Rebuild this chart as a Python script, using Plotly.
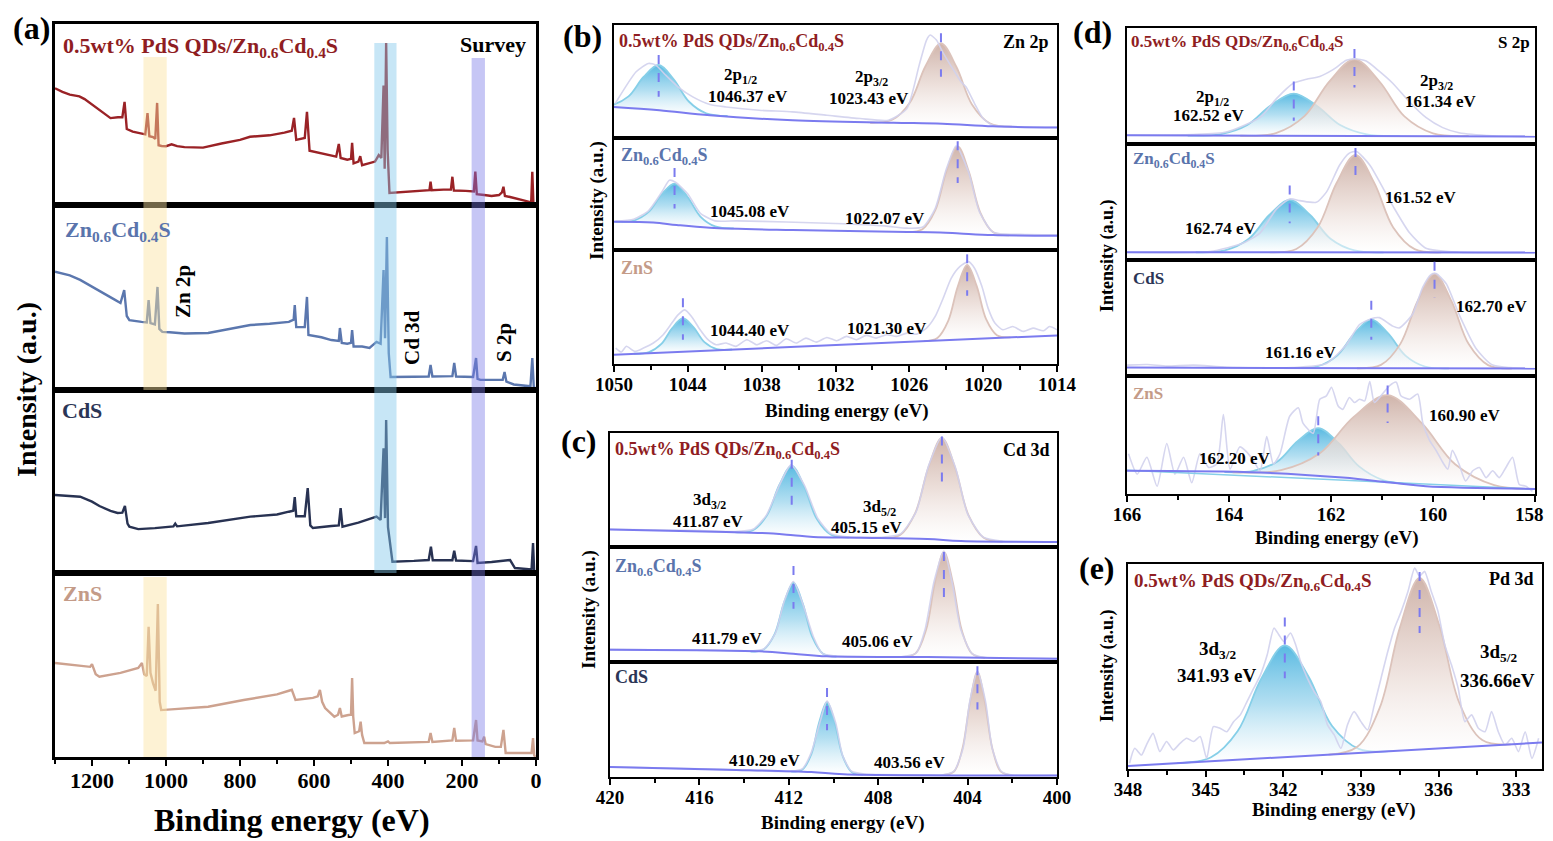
import plotly.graph_objects as go

W, H = 1553, 841
FONT = "Liberation Serif"
# the page puts the figure 8 px in from the top-left corner; positions below are
# measured on the reference picture and shifted back by this much
OFF = 8

# ---------------- (a) survey spectra: binding energy (eV) / intensity (a.u.) ----------------
sv_pd_be = [1300, 1280, 1260, 1234, 1220, 1200, 1170, 1150, 1130, 1118, 1112, 1106, 1090, 1070, 1056,
            1050, 1045, 1035, 1029, 1024, 1020, 1012, 1000, 985, 970, 950, 900, 850, 800, 773,
            720, 680, 660, 654, 648, 625, 619, 612, 600, 580, 560, 540, 533, 528, 510,
            500, 497, 493, 480, 475, 470, 450, 435, 425, 418, 412, 409, 405, 401, 396,
            380, 340, 300, 288, 285, 282, 250, 230, 226, 222, 190, 168, 164, 160, 140,
            120, 100, 92, 88, 84, 70, 40, 20, 13, 10, 7, 2]
sv_pd = [64.5, 62.5, 61, 60, 58.5, 55.5, 51.5, 48, 48.5, 48.5, 57, 42, 40.5, 39.8, 39,
         50.8, 38, 37.5, 36.5, 56.4, 33, 32.6, 32.5, 33.5, 32.5, 32, 31.7, 34, 36, 37.7,
         38.5, 40, 41, 48.1, 36, 37, 51.5, 30, 29.5, 28.7, 27.5, 26.7, 33.7, 26, 25,
         25.5, 34.3, 23, 24, 27, 22, 23, 24, 27.6, 26, 66, 20, 89.5, 30, 6.6,
         6.8, 7.4, 8, 8.2, 12.9, 8.2, 8.5, 8.5, 15.6, 8, 7.8, 7.5, 18.4, 6, 5.5,
         5, 5.5, 7, 10.1, 5, 4.4, 3, 1.8, 1.5, 18.4, 0.5, 0]

sv_zc_be = [1300, 1260, 1232, 1200, 1169, 1140, 1123, 1113, 1106, 1099, 1066, 1052, 1047, 1042, 1030,
            1023, 1018, 1010, 990, 950, 886, 830, 772, 720, 668, 655, 652, 648, 625, 619,
            615, 580, 553, 533, 530, 525, 510, 500, 497, 493, 470, 450, 431, 420, 412,
            408, 403, 398, 393, 330, 290, 285, 280, 226, 221, 216, 170, 162, 158, 150,
            120, 90, 85, 80, 60, 30, 15, 10, 6, 2]
sv_zc = [63.9, 62, 59.5, 56, 52.4, 49, 47, 54, 40, 37.8, 36.8, 36.5, 48.6, 36.2, 35.5,
         55.7, 33, 31.4, 31.2, 30.5, 30.8, 33, 35.1, 35.8, 36.8, 38, 45.9, 34, 34, 50.3,
         29.7, 28.5, 27, 26.5, 33.5, 25.4, 25, 25.5, 32.4, 23.5, 23.5, 22.7, 26, 25, 64.9,
         28, 82.7, 20, 7, 7.2, 7.3, 13.5, 7.3, 7.5, 14.6, 7.3, 7, 17.3, 6, 5.5,
         5.5, 5.5, 9.7, 4.5, 3, 2.2, 2, 17.3, 1.6, 1]

sv_cds_be = [1300, 1260, 1232, 1200, 1180, 1150, 1131, 1118, 1111, 1104, 1099, 1075, 1030, 980, 975,
             970, 886, 772, 700, 668, 656, 652, 648, 625, 617, 610, 603, 553, 533, 528,
             523, 480, 431, 420, 412, 408, 405, 400, 388, 330, 290, 284, 279, 226, 221,
             216, 170, 162, 158, 120, 95, 70, 57, 30, 12, 8, 5, 2]
sv_cds = [42.6, 42, 41.7, 39, 36.6, 34, 32.8, 33, 36.6, 27, 25.3, 24, 24.5, 25.5, 27,
          25.5, 27.3, 30.8, 32, 33.5, 34, 41.5, 31, 31, 46.4, 26, 24.6, 25.7, 26, 35.5,
          25.3, 27.5, 30.8, 29, 68.1, 30, 83.6, 25, 6.2, 6.6, 7.1, 14.4, 7, 7, 12.2,
          6.8, 6.5, 14.8, 5.5, 6, 6.5, 7.1, 2.7, 2.5, 2, 16.4, 1, 0]

sv_zns_be = [1300, 1250, 1217, 1205, 1200, 1190, 1180, 1123, 1075, 1065, 1059, 1052, 1047, 1042, 1035,
             1028, 1022, 1017, 1013, 990, 886, 790, 700, 668, 660, 650, 603, 590, 584, 578,
             570, 545, 535, 530, 525, 507, 500, 497, 494, 490, 478, 474, 470, 464, 410,
             400, 395, 290, 285, 280, 226, 221, 216, 170, 162, 158, 145, 140, 136, 110,
             95, 88, 84, 82, 30, 12, 8, 5, 2]
sv_zns = [51.1, 50, 49.1, 49, 50.5, 45, 43.6, 45.7, 48.4, 51.1, 45, 44, 70.8, 45.7, 40,
          36, 83.2, 30, 25.5, 25.8, 27.3, 31, 34, 36, 36.5, 31, 32.1, 33, 36.4, 30,
          26.6, 21.9, 23, 26.6, 22, 22.8, 23, 42.9, 22, 13, 14, 19.2, 12, 7.6, 7.6,
          8.5, 7.6, 8.2, 13, 8.2, 9, 15.8, 8.8, 9, 20.1, 9, 8.5, 11, 7, 5.5,
          5.5, 14.7, 5, 2.2, 2.2, 2.2, 10.3, 1, 0]

# ---------------- (b) Zn 2p ----------------
zn1_raw_be = [1049.9, 1048.2, 1047.2, 1046.6, 1045.8, 1044.8, 1043.6, 1042.2, 1040.9, 1038.2, 1035.5, 1032.7, 1030.0, 1027.7,
              1026.2, 1025.2, 1024.6, 1024.3, 1023.8, 1023.3, 1022.4, 1021.8, 1021.4, 1020.7, 1020.0, 1019.2, 1016.5, 1014.0]
zn1_raw = [30.5, 58.6, 66.0, 64.5, 55.6, 45.3, 36.4, 29.6, 27.5, 24.6, 23.1, 20.1, 17.2, 15.7,
           26.0, 64.5, 86.7, 91.1, 86.7, 76.3, 60.0, 49.7, 45.3, 30.5, 17.2, 11.2, 9.8, 9.5]
zn1_bg_be = [1050, 1046.3, 1042.2, 1035.5, 1027.3, 1023.3, 1019.2, 1014]
zn1_bg = [27.5, 24.6, 20.1, 15.7, 13.6, 12.7, 10.4, 9.2]
zn1_a_be = [1051.97, 1050.22, 1048.82, 1047.6, 1046.37, 1045.15, 1043.92, 1042.52, 1040.77]
zn1_a = [27.5, 28.9, 36.8, 54.0, 64.6, 52.0, 32.3, 21.9, 19.5]
zn1_b_be = [1029.19, 1027.39, 1025.95, 1024.69, 1023.43, 1022.17, 1020.91, 1019.47, 1017.67]
zn1_b = [13.5, 16.1, 31.4, 63.5, 83.7, 62.8, 29.7, 13.1, 10.0]
zn1_centers = [1046.37, 1023.43]
zn1_dash_hi = [73.4, 92.6]
zn1_dash_lo = [36.4, 54.1]

zn2_raw_be = [1049.9, 1048.4, 1047.2, 1046.1, 1045.5, 1045.0, 1044.0, 1043.0, 1041.8, 1040.0, 1036.0, 1032.0,
              1028.0, 1026.2, 1024.9, 1023.9, 1023.0, 1022.2, 1021.2, 1020.3, 1019.2, 1017.0, 1014.0]
zn2_raw = [25.8, 27.5, 35.0, 52.0, 62.3, 60.5, 50.0, 33.0, 26.0, 26.0, 25.0, 23.7,
           21.5, 19.5, 20.5, 37.0, 72.0, 92.9, 70.0, 34.0, 16.0, 14.0, 13.5]
zn2_bg_be = [1050, 1046.8, 1044.9, 1042.2, 1035.5, 1027.3, 1023.5, 1021.9, 1019.2, 1014]
zn2_bg = [25.2, 24.6, 22.3, 19.9, 17.8, 16.3, 15.7, 14.8, 13.4, 12.8]
zn2_a_be = [1049.88, 1048.38, 1047.18, 1046.13, 1045.08, 1044.03, 1042.98, 1041.78, 1040.28]
zn2_a = [25.2, 26.3, 34.0, 49.6, 59.3, 47.6, 29.9, 21.1, 19.4]
zn2_b_be = [1026.23, 1024.93, 1023.89, 1022.98, 1022.07, 1021.16, 1020.25, 1019.21, 1017.91]
zn2_b = [16.1, 18.5, 35.5, 70.5, 92.6, 69.8, 33.9, 16.1, 13.1]
zn2_centers = [1045.08, 1022.07]
zn2_dash_hi = [73.3, 97.0]
zn2_dash_lo = [37.1, 59.9]

zn3_raw_be = [1049.86, 1049.4, 1049.0, 1048.3, 1047.6, 1046.8, 1046.0, 1045.3, 1044.8, 1044.25,
              1043.7, 1043.0, 1042.36, 1041.7, 1040.9, 1040.1, 1039.2, 1038.4, 1037.6, 1036.8,
              1036.0, 1035.2, 1034.4, 1033.55, 1032.7, 1031.9, 1031.1, 1030.3, 1029.5, 1028.7,
              1027.85, 1027.05, 1026.2, 1025.4, 1024.6, 1023.9, 1023.25, 1022.6, 1021.9, 1021.2,
              1020.7, 1020.1, 1019.6, 1019.05, 1018.4, 1017.6, 1016.75, 1015.95, 1015.1, 1014.6, 1014.0]
zn3_raw = [14.0, 10.5, 15.5, 11.1, 14.0, 18.4, 25.7, 35.9, 43.1, 47.5,
           41.7, 30.0, 21.3, 16.9, 18.4, 15.5, 21.3, 16.9, 20.4, 16.3,
           22.2, 18.4, 22.7, 19.2, 23.3, 20.4, 24.2, 21.3, 25.1, 22.7,
           25.7, 24.2, 27.1, 26.2, 31.5, 41.7, 57.7, 75.2, 85.4, 89.8,
           84.0, 67.9, 49.0, 35.9, 30.0, 32.9, 28.6, 31.5, 29.2, 32.9, 30.0]
zn3_bg_be = [1050, 1014]
zn3_bg = [8.2, 25.1]
zn3_a_be = [1048.4, 1047.15, 1046.15, 1045.28, 1044.4, 1043.53, 1042.65, 1041.65, 1040.4]
zn3_a = [9.0, 10.5, 17.6, 31.3, 40.2, 32.1, 19.2, 13.1, 12.7]
zn3_b_be = [1024.82, 1023.72, 1022.84, 1022.07, 1021.3, 1020.53, 1019.76, 1018.88, 1017.78]
zn3_b = [20.0, 22.8, 37.8, 67.8, 86.9, 68.5, 39.3, 25.2, 23.4]
zn3_centers = [1044.40, 1021.30]
zn3_dash_hi = [57.7, 96.2]
zn3_dash_lo = [21.3, 59.8]

# ---------------- (c) Cd 3d ----------------
cd1_raw_be = [420, 416, 414.4, 413.6, 413.0, 412.4, 411.9, 411.3, 410.7, 410.1, 409.3, 408.5,
              407.9, 407.0, 406.3, 405.75, 405.15, 404.55, 404.0, 403.3, 402.4, 401, 400]
cd1_raw = [15.6, 14.5, 13.5, 15.5, 28, 55, 72, 54, 25, 11.5, 8.8, 8.5,
           8.5, 11.5, 31, 71, 96.5, 70, 29, 8.6, 5.0, 4.6, 4.5]
cd1_bg_be = [420, 414.8, 412.7, 411.8, 410.9, 408.8, 405.8, 404.3, 400]
cd1_bg = [15.3, 13.2, 11.8, 10.3, 8.8, 8.2, 7.1, 5.3, 4.4]
cd1_a_be = [414.43, 413.63, 412.99, 412.43, 411.87, 411.31, 410.75, 410.11, 409.31]
cd1_a = [13.0, 14.5, 27.3, 54.2, 71.2, 53.0, 24.7, 10.7, 8.4]
cd1_b_be = [407.87, 407.02, 406.34, 405.75, 405.15, 404.55, 403.96, 403.28, 402.43]
cd1_b = [7.8, 10.6, 30.0, 70.2, 95.6, 69.1, 28.0, 8.1, 4.8]
cd1_centers = [411.87, 405.15]
cd1_dash_hi = [76.5, 97.0]
cd1_dash_lo = [35.3, 57.4]

cd2_raw_be = [420, 415, 413.7, 413.1, 412.6, 412.2, 411.8, 411.4, 410.9, 410.5, 409.9, 408,
              406.9, 406.3, 405.9, 405.5, 405.06, 404.7, 404.3, 403.8, 403.2, 401, 400]
cd2_raw = [11, 10, 9.5, 11.5, 25, 53, 70, 52, 22, 7.5, 5.2, 4.6,
           4.8, 7.8, 28.5, 70, 96.5, 70, 28, 7.3, 3.9, 3.2, 3.0]
cd2_bg_be = [420, 413.3, 411.8, 410.3, 405.8, 400]
cd2_bg = [10.7, 9.3, 7.2, 4.9, 4.3, 2.9]
cd2_a_be = [413.71, 413.11, 412.63, 412.21, 411.79, 411.37, 410.95, 410.47, 409.87]
cd2_a = [9.0, 11.1, 24.4, 51.8, 69.0, 50.6, 21.8, 7.2, 4.8]
cd2_b_be = [406.9, 406.33, 405.86, 405.46, 405.06, 404.66, 404.26, 403.79, 403.22]
cd2_b = [4.4, 7.5, 27.8, 69.3, 95.7, 69.2, 27.5, 7.0, 3.6]
cd2_centers = [411.79, 405.06]
cd2_dash_hi = [83.5, 95.7]
cd2_dash_lo = [46.4, 56.5]

cd3_raw_be = [420, 415, 412, 411.4, 411.0, 410.6, 410.29, 409.9, 409.6, 409.2, 408.6,
              406, 405.1, 404.6, 404.2, 403.9, 403.56, 403.2, 402.9, 402.5, 402.0, 400]
cd3_raw = [8.9, 6.6, 4.8, 7.0, 21, 48, 66, 47, 19, 5, 2.6,
           2.0, 2.0, 5.2, 25.5, 66, 92, 66, 25, 5, 1.8, 1.5]
cd3_bg_be = [420, 414.8, 411.0, 409.55, 400]
cd3_bg = [8.7, 6.4, 4.3, 2.3, 1.4]
cd3_a_be = [411.89, 411.39, 410.99, 410.64, 410.29, 409.94, 409.59, 409.19, 408.69]
cd3_a = [4.6, 6.5, 19.9, 47.7, 65.2, 46.9, 18.3, 4.4, 2.1]
cd3_b_be = [405.08, 404.61, 404.23, 403.89, 403.56, 403.23, 402.89, 402.51, 402.04]
cd3_b = [1.8, 4.8, 24.8, 65.6, 91.3, 65.5, 24.6, 4.6, 1.5]
cd3_centers = [410.29, 403.56]
cd3_dash_hi = [77.4, 96.2]
cd3_dash_lo = [40.6, 58.6]

# ---------------- (d) S 2p ----------------
s1_raw_be = [166, 164.7, 164.05, 163.39, 163.07, 162.74, 162.48, 162.22, 161.96, 161.7,
             161.54, 161.31, 161.05, 160.79, 160.46, 160.14, 159.81, 159.49, 158.83, 158.02]
s1_raw = [7.6, 8.2, 10.3, 22.9, 39.1, 52.4, 55.9, 58.2, 64.1, 72.1,
          73.5, 71.5, 62.6, 52.4, 36.2, 22.9, 14.1, 9.7, 7.1, 6.5]
s1_bg_be = [166, 158]
s1_bg = [7.6, 6.5]
s1_a_be = [164.81, 164.16, 163.64, 163.19, 162.73, 162.28, 161.82, 161.30, 160.65]
s1_a = [7.3, 8.6, 16.5, 33.0, 43.5, 33.0, 16.3, 8.3, 7.0]
s1_b_be = [163.78, 163.08, 162.52, 162.03, 161.54, 161.05, 160.56, 160.0, 159.3]
s1_b = [7.1, 9.4, 24.0, 54.0, 72.9, 53.9, 23.8, 9.2, 6.9]
s1_centers = [162.73, 161.54]
s1_dash_hi = [53.8, 81.8]
s1_dash_lo = [20.0, 48.8]

s2_raw_be = [166, 164.37, 163.72, 163.39, 163.07, 162.81, 162.61, 162.29, 162.09,
             161.83, 161.64, 161.5, 161.24, 160.79, 160.46, 160.14, 159.49, 158.02]
s2_raw = [6.7, 7.3, 14.6, 23.4, 43.9, 52.6, 51.2, 49.7, 58.5,
          81.9, 92.1, 93.6, 81.9, 46.8, 23.4, 10.2, 6.7, 6.4]
s2_bg_be = [166, 158]
s2_bg = [6.7, 6.4]
s2_a_be = [164.65, 164.08, 163.61, 163.21, 162.81, 162.41, 162.01, 161.54, 160.97]
s2_a = [6.7, 8.3, 18.3, 38.8, 51.8, 38.8, 18.3, 8.2, 6.6]
s2_b_be = [163.2, 162.68, 162.26, 161.89, 161.52, 161.15, 160.78, 160.36, 159.84]
s2_b = [6.6, 9.5, 28.2, 66.4, 90.6, 66.3, 28.1, 9.4, 6.5]
s2_centers = [162.81, 161.52]
s2_dash_hi = [64.3, 96.5]
s2_dash_lo = [31.6, 67.8]

s3_raw_be = [166, 165.6, 165.22, 164.7, 164.05, 162.74, 162.09, 161.7, 161.44, 161.21, 161.05,
             160.79, 160.66, 160.4, 160.2, 160.04, 159.94, 159.74, 159.49, 159.16, 158.83, 158.02]
s3_raw = [9.4, 9.9, 8.5, 9.4, 7.6, 7.3, 10.8, 26.9, 44.4, 49.4, 50.3,
          43.0, 41.5, 53.2, 76.6, 87.4, 88.3, 79.5, 53.2, 24.0, 9.4, 6.4]
s3_bg_be = [166, 158]
s3_bg = [7.3, 6.4]
s3_a_be = [162.73, 162.26, 161.88, 161.54, 161.21, 160.88, 160.54, 160.16, 159.69]
s3_a = [6.9, 8.4, 17.6, 36.7, 48.8, 36.7, 17.6, 8.2, 6.6]
s3_b_be = [161.49, 161.02, 160.64, 160.3, 159.97, 159.64, 159.3, 158.92, 158.45]
s3_b = [6.7, 9.6, 27.7, 64.8, 88.3, 64.7, 27.5, 9.4, 6.5]
s3_centers = [161.21, 159.97]
s3_dash_hi = [64.9, 98.5]
s3_dash_lo = [31.3, 67.3]

s4_raw_be = [165.97, 165.8, 165.61, 165.41, 165.22, 165.06, 164.89, 164.73, 164.57, 164.4,
             164.24, 164.11, 163.98, 163.79, 163.65, 163.52, 163.39, 163.26, 163.13, 163.0,
             162.81, 162.64, 162.55, 162.35, 162.22, 162.09, 161.99, 161.86, 161.77, 161.64,
             161.54, 161.44, 161.34, 161.24, 161.15, 161.02, 160.85, 160.72, 160.63, 160.46,
             160.3, 160.2, 160.07, 159.94, 159.81, 159.71, 159.62, 159.49, 159.36, 159.22,
             159.09, 158.96, 158.83, 158.7, 158.57, 158.44, 158.31, 158.18, 158.05]
s4_raw = [34.1, 16.8, 31.2, 6.6, 42.8, 16.8, 31.2, 9.5, 34.1, 22.5,
          25.4, 67.3, 21.1, 39.9, 35.5, 28.3, 19.7, 48.6, 25.4, 34.1,
          65.9, 73.1, 60.1, 51.4, 80.3, 83.2, 90.5, 74.6, 71.7, 81.8,
          77.5, 80.3, 78.9, 95.4, 77.5, 83.2, 91.9, 94.8, 83.2, 80.3,
          84.7, 60.1, 45.7, 37.0, 26.9, 21.1, 37.0, 25.4, 11.0, 19.7,
          22.5, 13.9, 19.7, 13.9, 22.5, 31.2, 8.1, 6.6, 2.3]
s4_bg_be = [166, 163.39, 161.77, 160.79, 160.14, 158]
s4_bg = [19.7, 18.2, 13.9, 9.5, 6.6, 4.3]
s4_base_be = [166, 158]
s4_base = [20.2, 4.0]
s4_a_be = [164.09, 163.52, 163.05, 162.65, 162.25, 161.85, 161.45, 160.98, 160.41]
s4_a = [18.5, 19.6, 27.6, 45.0, 55.8, 43.1, 23.4, 11.8, 8.2]
s4_b_be = [163.93, 162.98, 162.22, 161.56, 160.89, 160.22, 159.56, 158.8, 157.85]
s4_b = [18.4, 20.2, 34.5, 65.1, 83.8, 60.0, 25.0, 7.6, 4.2]
s4_centers = [162.25, 160.89]
s4_dash_hi = [65.9, 91.9]
s4_dash_lo = [32.7, 60.1]
s_ticks = [166, 164, 162, 160, 158]

# ---------------- (e) Pd 3d ----------------
pd_raw_be = [347.94, 347.74, 347.48, 347.29, 347.03, 346.77, 346.51, 346.25, 345.99, 345.73,
             345.47, 345.21, 344.96, 344.7, 344.44, 344.18, 343.92, 343.66, 343.4, 343.14,
             342.88, 342.62, 342.36, 342.17, 341.98, 341.72, 341.52, 341.33, 341.07, 340.81,
             340.55, 340.29, 340.03, 339.77, 339.52, 339.26, 339.0, 338.74, 338.48, 338.22,
             337.96, 337.7, 337.44, 337.18, 336.92, 336.73, 336.54, 336.28, 336.02, 335.76,
             335.5, 335.24, 334.98, 334.72, 334.46, 334.2, 333.95, 333.69, 333.43, 333.17,
             332.91, 332.65, 332.39, 332.13]
pd_raw = [2.8, 10.1, 6.8, 11.7, 17.4, 8.5, 13.4, 9.3, 12.5, 15.0,
          13.4, 15.8, 5.2, 20.7, 19.9, 18.2, 23.1, 26.4, 32.9, 39.4,
          45.9, 55.7, 68.7, 65.5, 62.2, 66.3, 60.6, 52.4, 44.3, 37.8,
          32.9, 21.5, 16.6, 10.1, 21.5, 28.0, 23.1, 19.1, 31.3, 44.3,
          57.3, 68.7, 76.9, 86.6, 98.0, 94.0, 96.4, 86.6, 76.9, 60.6,
          50.8, 39.4, 23.1, 26.4, 19.9, 18.2, 28.0, 18.2, 11.7, 15.0,
          8.5, 18.2, 5.2, 15.0]
pd_bg_be = [348, 332]
pd_bg = [1.5, 12.9]
pd_a_be = [346.1, 344.79, 343.76, 342.85, 341.94, 341.03, 340.12, 339.08, 337.78]
pd_a = [2.9, 5.7, 18.5, 44.0, 60.3, 45.3, 21.1, 9.8, 8.8]
pd_b_be = [340.25, 339.15, 338.27, 337.5, 336.73, 335.96, 335.19, 334.31, 333.21]
pd_b = [7.0, 10.7, 29.9, 68.6, 93.2, 69.7, 32.1, 14.1, 12.0]
pd_centers = [341.94, 336.73]
pd_dash_hi = [73.9, 96.1]
pd_dash_lo = [44.3, 66.3]

# colours
RED, BLUE, NAVY, TAN = "#8f1d22", "#5a74ac", "#2b3556", "#c49b88"
LINE_COLORS = ["#9a2226", "#5b77ae", "#283252", "#cda28f"]
RAW_C = "#d2d2ee"
BG_C = "#7b7bef"
CYAN_LINE = "#86cfe8"
PINK_LINE = "#dcc3bb"

fig = go.Figure()


def px_x(x):
    return (x - OFF) / W


def px_y(y):
    return 1 - (y - OFF) / H


def add_axes(n, xpx, ypx, xr, bottom, dtick, minor, tsize, lw=2, tickvals=None):
    sx = "" if n == 1 else str(n)
    xa = dict(
        domain=[px_x(xpx[0]), px_x(xpx[1])], range=xr, anchor="y" + sx,
        showline=True, mirror=True, linecolor="black", linewidth=lw,
        showgrid=False, zeroline=False, automargin=False,
        ticks="outside" if bottom else "", ticklen=6, tickwidth=2, tickcolor="black",
        dtick=dtick, tick0=0, showticklabels=bottom, ticklabelstandoff=-4,
        tickfont=dict(family=FONT, size=tsize, color="black", weight="bold"),
        minor=dict(ticks="outside" if bottom else "", ticklen=4, tickwidth=2,
                   tickcolor="black", dtick=minor, tick0=0),
    )
    if tickvals is not None:
        # last label sits at the window edge; it is written separately below
        xa.update(tickmode="array", tickvals=tickvals,
                  ticktext=[str(v) for v in tickvals[:-1]] + [""])
    fig.layout["xaxis" + sx] = xa
    fig.layout["yaxis" + sx] = dict(
        domain=[px_y(ypx[1]), px_y(ypx[0])], range=[0, 100], anchor="x" + sx,
        showline=True, mirror=True, linecolor="black", linewidth=lw,
        showgrid=False, zeroline=False, automargin=False, ticks="", showticklabels=False,
    )
    return ("x" + sx, "y" + sx)


# ---- (a) survey ----
survey = [(sv_pd_be, sv_pd), (sv_zc_be, sv_zc), (sv_cds_be, sv_cds), (sv_zns_be, sv_zns)]
survey_rows = [(24, 205), (205, 390), (390, 573), (573, 757)]
for i, ((be, val), row) in enumerate(zip(survey, survey_rows)):
    xa, ya = add_axes(i + 1, (55, 536), row, [1300, 0], i == 3, 200, 100, 22, lw=3)
    fig.add_trace(go.Scatter(x=be, y=val, mode="lines", xaxis=xa, yaxis=ya,
                             line=dict(color=LINE_COLORS[i], width=2.4), showlegend=False,
                             hoverinfo="skip"))

# highlight bands (drawn above the curves, semi transparent)
bands = [
    (1061, 998, 57, 390, "rgba(250,226,160,0.45)"),
    (1061, 998, 577, 757, "rgba(250,226,160,0.45)"),
    (437, 377, 43, 573, "rgba(130,200,235,0.45)"),
    (174, 138, 58, 757, "rgba(120,120,230,0.42)"),
]
for x0, x1, y0, y1, c in bands:
    fig.add_shape(type="rect", xref="x", yref="paper", x0=x0, x1=x1, y0=px_y(y1), y1=px_y(y0),
                  fillcolor=c, line_width=0, layer="above")

# ---- fitted panels ----
fits = [
    dict(rows=(25, 138), xs=(614, 1057), xr=[1050, 1014], raw=(zn1_raw_be, zn1_raw), bg=(zn1_bg_be, zn1_bg),
         a=(zn1_a_be, zn1_a), b=(zn1_b_be, zn1_b), c=zn1_centers, hi=zn1_dash_hi, lo=zn1_dash_lo),
    dict(rows=(138, 250), xs=(614, 1057), xr=[1050, 1014], raw=(zn2_raw_be, zn2_raw), bg=(zn2_bg_be, zn2_bg),
         a=(zn2_a_be, zn2_a), b=(zn2_b_be, zn2_b), c=zn2_centers, hi=zn2_dash_hi, lo=zn2_dash_lo),
    dict(rows=(250, 364), xs=(614, 1057), xr=[1050, 1014], raw=(zn3_raw_be, zn3_raw), bg=(zn3_bg_be, zn3_bg),
         a=(zn3_a_be, zn3_a), b=(zn3_b_be, zn3_b), c=zn3_centers, hi=zn3_dash_hi, lo=zn3_dash_lo,
         bottom=True, dt=6, mn=3),
    dict(rows=(433, 547), xs=(610, 1057), xr=[420, 400], raw=(cd1_raw_be, cd1_raw), bg=(cd1_bg_be, cd1_bg),
         a=(cd1_a_be, cd1_a), b=(cd1_b_be, cd1_b), c=cd1_centers, hi=cd1_dash_hi, lo=cd1_dash_lo),
    dict(rows=(547, 662), xs=(610, 1057), xr=[420, 400], raw=(cd2_raw_be, cd2_raw), bg=(cd2_bg_be, cd2_bg),
         a=(cd2_a_be, cd2_a), b=(cd2_b_be, cd2_b), c=cd2_centers, hi=cd2_dash_hi, lo=cd2_dash_lo),
    dict(rows=(662, 777), xs=(610, 1057), xr=[420, 400], raw=(cd3_raw_be, cd3_raw), bg=(cd3_bg_be, cd3_bg),
         a=(cd3_a_be, cd3_a), b=(cd3_b_be, cd3_b), c=cd3_centers, hi=cd3_dash_hi, lo=cd3_dash_lo,
         bottom=True, dt=4, mn=2),
    dict(rows=(28, 144), xs=(1127, 1535), xr=[166, 158], raw=(s1_raw_be, s1_raw), bg=(s1_bg_be, s1_bg),
         a=(s1_a_be, s1_a), b=(s1_b_be, s1_b), c=s1_centers, hi=s1_dash_hi, lo=s1_dash_lo),
    dict(rows=(144, 260), xs=(1127, 1535), xr=[166, 158], raw=(s2_raw_be, s2_raw), bg=(s2_bg_be, s2_bg),
         a=(s2_a_be, s2_a), b=(s2_b_be, s2_b), c=s2_centers, hi=s2_dash_hi, lo=s2_dash_lo),
    dict(rows=(260, 376), xs=(1127, 1535), xr=[166, 158], raw=(s3_raw_be, s3_raw), bg=(s3_bg_be, s3_bg),
         a=(s3_a_be, s3_a), b=(s3_b_be, s3_b), c=s3_centers, hi=s3_dash_hi, lo=s3_dash_lo),
    dict(rows=(376, 494), xs=(1127, 1535), xr=[166, 158], raw=(s4_raw_be, s4_raw), bg=(s4_bg_be, s4_bg),
         a=(s4_a_be, s4_a), b=(s4_b_be, s4_b), c=s4_centers, hi=s4_dash_hi, lo=s4_dash_lo,
         base=(s4_base_be, s4_base), bottom=True, dt=2, mn=1, tickvals=s_ticks),
    dict(rows=(564, 769), xs=(1128, 1542), xr=[348, 332], raw=(pd_raw_be, pd_raw), bg=(pd_bg_be, pd_bg),
         a=(pd_a_be, pd_a), b=(pd_b_be, pd_b), c=pd_centers, hi=pd_dash_hi, lo=pd_dash_lo,
         bottom=True, dt=3, mn=1.5),
]

peak_styles = [
    (CYAN_LINE, [[0, "rgba(255,255,255,0.5)"], [0.5, "rgba(160,215,238,0.8)"], [1, "rgba(80,182,224,0.95)"]]),
    (PINK_LINE, [[0, "rgba(255,255,255,0.5)"], [0.5, "rgba(232,216,210,0.8)"], [1, "rgba(205,176,166,0.95)"]]),
]

for k, f in enumerate(fits):
    n = 5 + k
    xa, ya = add_axes(n, f["xs"], f["rows"], f["xr"], f.get("bottom", False),
                      f.get("dt", 1), f.get("mn", 1), 19, tickvals=f.get("tickvals"))
    # fitted components: a straight chord under each peak, peak filled down to it
    for (be, val), (lc, cs) in zip([f["a"], f["b"]], peak_styles):
        fig.add_trace(go.Scatter(x=[be[0], be[-1]], y=[val[0], val[-1]], mode="lines",
                                 line=dict(width=0, color="rgba(0,0,0,0)"), xaxis=xa, yaxis=ya,
                                 showlegend=False, hoverinfo="skip"))
        fig.add_trace(go.Scatter(x=be, y=val, mode="lines", fill="tonexty",
                                 fillgradient=dict(type="vertical", colorscale=cs),
                                 line=dict(color=lc, width=1.8, shape="spline", smoothing=1.0),
                                 xaxis=xa, yaxis=ya, showlegend=False, hoverinfo="skip"))
    rbe, rval = f["raw"]
    fig.add_trace(go.Scatter(x=rbe, y=rval, mode="lines", xaxis=xa, yaxis=ya,
                             line=dict(color=RAW_C, width=1.6, shape="spline", smoothing=0.6),
                             opacity=0.9, showlegend=False, hoverinfo="skip"))
    if "base" in f:
        fig.add_trace(go.Scatter(x=f["base"][0], y=f["base"][1], mode="lines", xaxis=xa, yaxis=ya,
                                 line=dict(color=CYAN_LINE, width=1.5), showlegend=False,
                                 hoverinfo="skip"))
    fig.add_trace(go.Scatter(x=f["bg"][0], y=f["bg"][1], mode="lines", xaxis=xa, yaxis=ya,
                             line=dict(color=BG_C, width=2, shape="spline"), showlegend=False,
                             hoverinfo="skip"))
    for c, hi, lo in zip(f["c"], f["hi"], f["lo"]):
        fig.add_trace(go.Scatter(x=[c, c], y=[hi, lo], mode="lines", xaxis=xa, yaxis=ya,
                                 line=dict(color=BG_C, width=2, dash="dash"), showlegend=False,
                                 hoverinfo="skip"))


def note(text, x, y, size, color="black", xanchor="center", angle=0):
    fig.add_annotation(text=text, x=px_x(x), y=px_y(y), xref="paper", yref="paper",
                       xanchor=xanchor, yanchor="middle", showarrow=False, textangle=angle,
                       font=dict(family=FONT, size=size, color=color, weight="bold"))


PDS = "0.5wt% PdS QDs/Zn<sub>0.6</sub>Cd<sub>0.4</sub>S"
ZCS = "Zn<sub>0.6</sub>Cd<sub>0.4</sub>S"

# panel letters
note("(a)", 31, 28, 32)
note("(b)", 582, 36, 32)
note("(c)", 579, 441, 32)
note("(d)", 1092, 32, 32)
note("(e)", 1097, 568, 32)

# axis titles
note("Binding energy (eV)", 292, 820, 32)
note("Intensity (a.u.)", 26, 390, 28, angle=-90)
note("Binding energy (eV)", 847, 411, 19)
note("Intensity (a.u.)", 597, 201, 19, angle=-90)
note("Binding energy (eV)", 843, 823, 19)
note("Intensity (a.u.)", 589, 610, 19, angle=-90)
note("Binding energy (eV)", 1337, 538, 19)
note("Intensity (a.u.)", 1108, 256, 18, angle=-90)
note("Binding energy (eV)", 1334, 810, 19)
note("Intensity (a.u.)", 1107, 666, 18, angle=-90)
note(str(s_ticks[-1]), 1546, 514, 19, "black", "right")

# (a) labels
note(PDS, 61, 47, 22, RED, "left")
note("Survey", 528, 45, 22, "black", "right")
note(ZCS, 63, 231, 22, BLUE, "left")
note("CdS", 60, 410, 22, NAVY, "left")
note("ZnS", 61, 593, 22, TAN, "left")
note("Zn 2p", 183, 292, 21, angle=-90)
note("Cd 3d", 412, 338, 21, angle=-90)
note("S 2p", 504, 342, 21, angle=-90)

# (b) labels
note(PDS, 617, 42, 18, RED, "left")
note("Zn 2p", 1051, 42, 18, "black", "right")
note("2p<sub>1/2</sub>", 740, 76, 17)
note("1046.37 eV", 748, 96, 17)
note("2p<sub>3/2</sub>", 871, 78, 17)
note("1023.43 eV", 869, 98, 17)
note(ZCS, 619, 156, 18, BLUE, "left")
note("1045.08 eV", 750, 212, 17)
note("1022.07 eV", 885, 218, 17)
note("ZnS", 619, 268, 18, TAN, "left")
note("1044.40 eV", 750, 330, 17)
note("1021.30 eV", 887, 328, 17)

# (c) labels
note(PDS, 613, 450, 18, RED, "left")
note("Cd 3d", 1052, 450, 18, "black", "right")
note("3d<sub>3/2</sub>", 709, 501, 17)
note("411.87 eV", 708, 521, 17)
note("3d<sub>5/2</sub>", 880, 508, 17)
note("405.15 eV", 867, 527, 17)
note(ZCS, 613, 567, 18, BLUE, "left")
note("411.79 eV", 727, 638, 17)
note("405.06 eV", 878, 641, 17)
note("CdS", 613, 677, 18, NAVY, "left")
note("410.29 eV", 765, 760, 17)
note("403.56 eV", 910, 762, 17)

# (d) labels
note(PDS, 1129, 43, 17, RED, "left")
note("S 2p", 1532, 43, 17, "black", "right")
note("2p<sub>1/2</sub>", 1212, 98, 17)
note("162.52 eV", 1209, 116, 17)
note("2p<sub>3/2</sub>", 1436, 82, 17)
note("161.34 eV", 1441, 101, 17)
note(ZCS, 1131, 160, 17, BLUE, "left")
note("161.52 eV", 1421, 197, 17)
note("162.74 eV", 1221, 228, 17)
note("CdS", 1131, 278, 17, NAVY, "left")
note("162.70 eV", 1492, 306, 17)
note("161.16 eV", 1301, 352, 17)
note("ZnS", 1131, 393, 17, TAN, "left")
note("160.90 eV", 1465, 416, 17)
note("162.20 eV", 1235, 458, 17)

# (e) labels
note(PDS, 1132, 582, 19, RED, "left")
note("Pd 3d", 1536, 579, 18, "black", "right")
note("3d<sub>3/2</sub>", 1217, 650, 19)
note("341.93 eV", 1216, 675, 19)
note("3d<sub>5/2</sub>", 1498, 653, 19)
note("336.66eV", 1497, 680, 19)

fig.update_layout(
    width=W, height=H,
    margin=dict(l=0, r=0, t=0, b=0, autoexpand=False),
    paper_bgcolor="white", plot_bgcolor="rgba(0,0,0,0)",
    showlegend=False,
)

fig.write_html("out.html")
